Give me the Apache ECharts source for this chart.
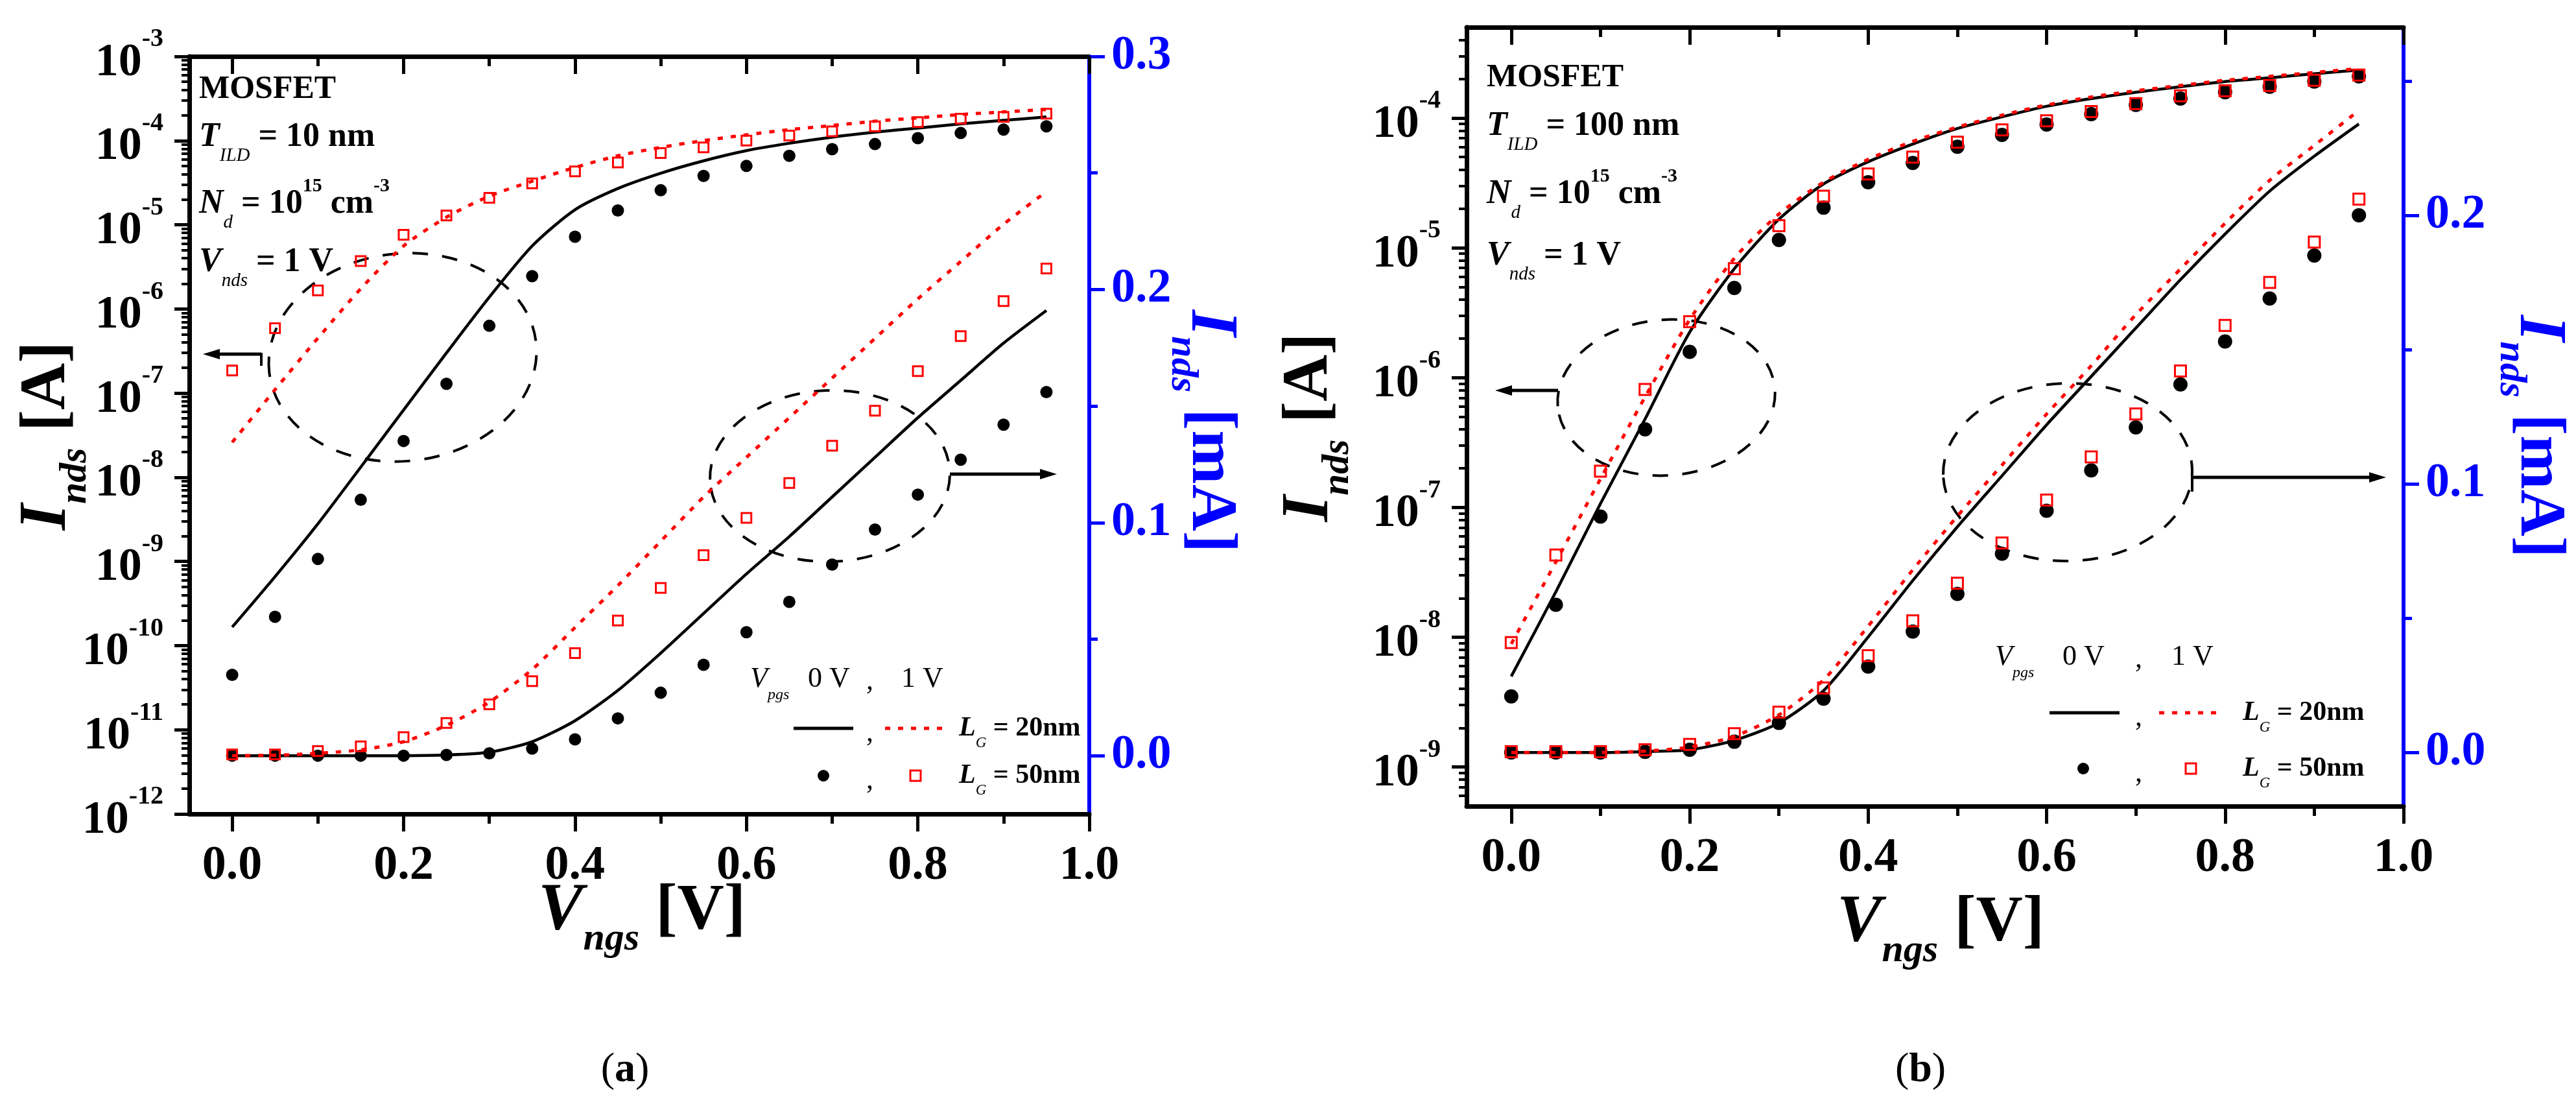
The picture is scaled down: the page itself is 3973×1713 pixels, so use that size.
<!DOCTYPE html>
<html>
<head>
<meta charset="utf-8">
<script src="https://cdn.jsdelivr.net/npm/echarts@6/dist/echarts.min.js"></script>
<style>
html, body { margin: 0; padding: 0; background: #fff; }
#chart { width: 3973px; height: 1713px; }
</style>
</head>
<body>
<div id="chart"></div>
<script>
// gate voltage grid shared by every curve
const vngs = [0, 0.05, 0.1, 0.15, 0.2, 0.25, 0.3, 0.35, 0.4, 0.45, 0.5, 0.55, 0.6, 0.65, 0.7, 0.75, 0.8, 0.85, 0.9, 0.95];

// (a) T_ILD = 10 nm, log scale [A]
const aLog20nm0V = [1.66e-10, 6.6e-10, 2.8e-9, 1.32e-8, 6.3e-8, 3.0e-7, 1.38e-6, 5.6e-6, 1.51e-5, 2.7e-5, 4.1e-5, 5.75e-5, 7.6e-5, 9.3e-5, 1.10e-4, 1.26e-4, 1.41e-4, 1.58e-4, 1.74e-4, 1.91e-4];
const aLog20nm1V = [2.6e-8, 1.1e-7, 4.5e-7, 1.74e-6, 5.6e-6, 1.23e-5, 2.19e-5, 3.3e-5, 4.8e-5, 6.6e-5, 8.3e-5, 1.0e-4, 1.17e-4, 1.35e-4, 1.51e-4, 1.70e-4, 1.86e-4, 2.04e-4, 2.19e-4, 2.34e-4];
const aLog50nm0V = [4.5e-11, 2.2e-10, 1.07e-9, 5.4e-9, 2.7e-8, 1.29e-7, 6.3e-7, 2.45e-6, 7.2e-6, 1.48e-5, 2.57e-5, 3.8e-5, 5.0e-5, 6.6e-5, 7.9e-5, 9.1e-5, 1.07e-4, 1.23e-4, 1.35e-4, 1.48e-4];
const aLog50nm1V = [1.86e-7, 5.9e-7, 1.66e-6, 3.7e-6, 7.6e-6, 1.29e-5, 2.09e-5, 3.1e-5, 4.3e-5, 5.5e-5, 7.1e-5, 8.3e-5, 1.0e-4, 1.15e-4, 1.29e-4, 1.48e-4, 1.66e-4, 1.82e-4, 1.91e-4, 2.09e-4];
// (a) linear scale [mA]
const aLin20nm0V = [0, 0, 0, 0, 0, 0.0003, 0.0015, 0.006, 0.015, 0.028, 0.044, 0.061, 0.078, 0.094, 0.111, 0.128, 0.145, 0.161, 0.177, 0.191];
const aLin20nm1V = [0, 0.0002, 0.001, 0.0025, 0.006, 0.013, 0.023, 0.037, 0.055, 0.073, 0.092, 0.111, 0.128, 0.145, 0.162, 0.179, 0.196, 0.212, 0.228, 0.242];
const aLin50nm0V = [0, 0, 0, 0, 0, 0.0003, 0.001, 0.003, 0.007, 0.016, 0.027, 0.039, 0.053, 0.066, 0.082, 0.097, 0.112, 0.127, 0.142, 0.156];
const aLin50nm1V = [0.0005, 0.0005, 0.002, 0.004, 0.008, 0.014, 0.022, 0.032, 0.044, 0.058, 0.072, 0.086, 0.102, 0.117, 0.133, 0.148, 0.165, 0.180, 0.195, 0.209];

// (b) T_ILD = 100 nm, log scale [A]
const bLog20nm0V = [5.0e-9, 2.24e-8, 1.07e-7, 4.8e-7, 2.24e-6, 6.9e-6, 1.66e-5, 3.1e-5, 4.6e-5, 6.3e-5, 8.3e-5, 1.02e-4, 1.23e-4, 1.41e-4, 1.58e-4, 1.74e-4, 1.91e-4, 2.04e-4, 2.19e-4, 2.34e-4];
const bLog20nm1V = [8.9e-9, 3.8e-8, 1.66e-7, 7.1e-7, 2.8e-6, 8.3e-6, 1.82e-5, 3.2e-5, 4.8e-5, 6.6e-5, 8.5e-5, 1.05e-4, 1.26e-4, 1.45e-4, 1.62e-4, 1.78e-4, 1.95e-4, 2.09e-4, 2.24e-4, 2.40e-4];
const bLog50nm0V = [3.5e-9, 1.78e-8, 8.5e-8, 4.0e-7, 1.58e-6, 4.9e-6, 1.15e-5, 2.04e-5, 3.2e-5, 4.5e-5, 6.0e-5, 7.4e-5, 8.9e-5, 1.07e-4, 1.26e-4, 1.41e-4, 1.58e-4, 1.74e-4, 1.91e-4, 2.09e-4];
const bLog50nm1V = [9.1e-9, 4.3e-8, 1.9e-7, 8.1e-7, 2.7e-6, 6.9e-6, 1.48e-5, 2.5e-5, 3.7e-5, 5.0e-5, 6.5e-5, 8.1e-5, 9.5e-5, 1.12e-4, 1.29e-4, 1.48e-4, 1.62e-4, 1.78e-4, 1.95e-4, 2.14e-4];
// (b) linear scale [mA]
const bLin20nm0V = [0, 0, 0, 0.0003, 0.001, 0.0045, 0.011, 0.023, 0.043, 0.064, 0.084, 0.103, 0.122, 0.140, 0.158, 0.176, 0.193, 0.209, 0.222, 0.234];
const bLin20nm1V = [0, 0, 0, 0.0005, 0.002, 0.006, 0.014, 0.027, 0.047, 0.068, 0.088, 0.107, 0.126, 0.144, 0.163, 0.180, 0.197, 0.213, 0.226, 0.239];
const bLin50nm0V = [0, 0, 0, 0.0002, 0.001, 0.004, 0.011, 0.020, 0.032, 0.045, 0.059, 0.074, 0.090, 0.105, 0.121, 0.137, 0.153, 0.169, 0.185, 0.200];
const bLin50nm1V = [0.0003, 0.0003, 0.0003, 0.001, 0.003, 0.007, 0.015, 0.024, 0.036, 0.049, 0.063, 0.078, 0.094, 0.110, 0.126, 0.142, 0.159, 0.175, 0.190, 0.206];

// tick values
const xMajor = [0, 0.2, 0.4, 0.6, 0.8, 1.0];
const xMinor = [0.1, 0.3, 0.5, 0.7, 0.9];
const aLogMajor = [1e-12, 1e-11, 1e-10, 1e-9, 1e-8, 1e-7, 1e-6, 1e-5, 1e-4, 1e-3];
const bLogMajor = [1e-9, 1e-8, 1e-7, 1e-6, 1e-5, 1e-4];
const aMaMajor = [0, 0.1, 0.2, 0.3];
const aMaMinor = [0.05, 0.15, 0.25];
const bMaMajor = [0, 0.1, 0.2];
const bMaMinor = [0.05, 0.15, 0.25];

const FF = '"Liberation Serif", "Times New Roman", serif';
const BLUE = '#0000ff';
const RED = '#ff0000';
const DOTS = [8, 12];

// minor ticks of a log axis: 2..9 times each decade
function logMinor(lo, hi) {
    const out = [];
    for (let e = -13; e <= -3; e++) {
        for (let k = 2; k <= 9; k++) {
            const v = k * Math.pow(10, e);
            if (v > lo && v < hi) out.push(v);
        }
    }
    return out;
}

const pairs = arr => vngs.map((x, i) => [x, arr[i]]);

const logRich = {
    m: { fontSize: 72, fontWeight: 'bold', fontFamily: FF, color: '#000', lineHeight: 92, verticalAlign: 'bottom' },
    e: { fontSize: 40, fontWeight: 'bold', fontFamily: FF, color: '#000', lineHeight: 40, verticalAlign: 'top' }
};
function logLabel(v) {
    const e = Math.round(Math.log10(v));
    return '{m|10}{e|' + e + '}';
}

function xAxes(g) {
    const base = { gridIndex: g, type: 'value', min: -0.05, max: 1.0, splitLine: { show: false } };
    return [
        Object.assign({}, base, {
            position: 'bottom',
            axisLine: { show: true, onZero: false, lineStyle: { color: '#000', width: 7 } },
            axisTick: { show: true, customValues: xMajor, length: 27, lineStyle: { color: '#000', width: 5 } },
            axisLabel: { customValues: xMajor, formatter: v => v.toFixed(1), fontSize: 74, fontWeight: 'bold', fontFamily: FF, color: '#000', margin: 44 }
        }),
        Object.assign({}, base, {
            position: 'bottom',
            axisLine: { show: false, onZero: false },
            axisTick: { show: true, customValues: xMinor, length: 15, lineStyle: { color: '#000', width: 5 } },
            axisLabel: { show: false }
        }),
        Object.assign({}, base, {
            position: 'top',
            axisLine: { show: true, onZero: false, lineStyle: { color: '#000', width: 7 } },
            axisTick: { show: true, inside: true, customValues: xMajor, length: 27, lineStyle: { color: '#000', width: 5 } },
            axisLabel: { show: false }
        }),
        Object.assign({}, base, {
            position: 'top',
            axisLine: { show: false, onZero: false },
            axisTick: { show: true, inside: true, customValues: xMinor, length: 15, lineStyle: { color: '#000', width: 5 } },
            axisLabel: { show: false }
        })
    ];
}

function yAxes(g, lo, hi, logMajor, maMin, maMax, maMajor, maMinorV) {
    return [
        {
            gridIndex: g, type: 'log', logBase: 10, min: lo, max: hi, position: 'left',
            axisLine: { show: true, onZero: false, lineStyle: { color: '#000', width: 7 } },
            axisTick: { show: true, customValues: logMajor, length: 23, lineStyle: { color: '#000', width: 5 } },
            axisLabel: { customValues: logMajor, formatter: logLabel, rich: logRich, margin: 40 },
            splitLine: { show: false }
        },
        {
            gridIndex: g, type: 'log', logBase: 10, min: lo, max: hi, position: 'left',
            axisLine: { show: false, onZero: false },
            axisTick: { show: true, customValues: logMinor(lo, hi), length: 12, lineStyle: { color: '#000', width: 4 } },
            axisLabel: { show: false },
            splitLine: { show: false }
        },
        {
            gridIndex: g, type: 'value', min: maMin, max: maMax, position: 'right',
            axisLine: { show: true, onZero: false, lineStyle: { color: BLUE, width: 6 } },
            axisTick: { show: true, customValues: maMajor, length: 24, lineStyle: { color: BLUE, width: 5 } },
            axisLabel: { customValues: maMajor, formatter: v => v.toFixed(1), fontSize: 74, fontWeight: 'bold', fontFamily: FF, color: BLUE, margin: 34 },
            splitLine: { show: false }
        },
        {
            gridIndex: g, type: 'value', min: maMin, max: maMax, position: 'right',
            axisLine: { show: false, onZero: false },
            axisTick: { show: true, customValues: maMinorV, length: 13, lineStyle: { color: BLUE, width: 5 } },
            axisLabel: { show: false },
            splitLine: { show: false }
        }
    ];
}

function lineSeries(xi, yi, arr, red) {
    return {
        type: 'line', xAxisIndex: xi, yAxisIndex: yi, data: pairs(arr),
        showSymbol: false, smooth: 0.25, z: 4,
        lineStyle: red ? { color: RED, width: 5, type: DOTS } : { color: '#000', width: 4.5 }
    };
}
function dotSeries(xi, yi, arr, size) {
    return {
        type: 'scatter', xAxisIndex: xi, yAxisIndex: yi, data: pairs(arr),
        symbol: 'circle', symbolSize: size, itemStyle: { color: '#000', opacity: 1 }, z: 3
    };
}
function squareSeries(xi, yi, arr, size) {
    return {
        type: 'scatter', xAxisIndex: xi, yAxisIndex: yi, data: pairs(arr),
        symbol: 'rect', symbolSize: size, z: 5,
        itemStyle: { color: 'rgba(255,255,255,0)', borderColor: RED, borderWidth: 3, opacity: 1 }
    };
}

// rich styles: main text centred in the line, subscript pushed to the bottom, superscript to the top
function txtRich(size, color, weight, subBold) {
    const sub = Math.round(size * 0.55), sup = Math.round(size * 0.58);
    const m = { fontSize: size, fontWeight: weight || 'bold', fontFamily: FF, fill: color, lineHeight: size + 4, verticalAlign: 'middle' };
    return {
        m: m,
        mb: Object.assign({}, m, { fontWeight: 'bold' }),
        mi: Object.assign({}, m, { fontStyle: 'italic' }),
        sub: { fontSize: sub, fontStyle: 'italic', fontWeight: subBold ? 'bold' : 'normal', fontFamily: FF, fill: color, height: sub, lineHeight: Math.round(size * 1.65), verticalAlign: 'bottom' },
        sup: { fontSize: sup, fontWeight: 'bold', fontFamily: FF, fill: color, height: sup, lineHeight: sup, verticalAlign: 'top' }
    };
}
function txt(x, y, text, size, opts) {
    opts = opts || {};
    const color = opts.color || '#000';
    return {
        type: 'text', x: x, y: y, rotation: opts.rotation || 0, z: 10,
        style: {
            text: text, rich: txtRich(size, color, opts.weight, opts.subBold), fill: color,
            align: opts.align || 'left', verticalAlign: 'middle',
            textAlign: opts.align || 'left', textVerticalAlign: 'middle'
        }
    };
}
function ellipse(cx, cy, rx, ry, rot) {
    return {
        type: 'ellipse', x: cx, y: cy, rotation: rot || 0, z: 2,
        shape: { cx: 0, cy: 0, rx: rx, ry: ry },
        style: { fill: 'none', stroke: '#000', lineWidth: 4, lineDash: [24, 22] }
    };
}
function arrow(x1, x2, y, stub) {
    const d = x2 > x1 ? 1 : -1;
    const els = [
        { type: 'line', z: 2, shape: { x1: x1, y1: y, x2: x2 - d * 20, y2: y }, style: { stroke: '#000', lineWidth: 5 } },
        { type: 'polygon', z: 2, shape: { points: [[x2, y], [x2 - d * 26, y - 8], [x2 - d * 26, y + 8]] }, style: { fill: '#000' } }
    ];
    if (stub) els.push({ type: 'line', z: 2, shape: { x1: x1, y1: y - 2, x2: x1, y2: y + stub }, style: { stroke: '#000', lineWidth: 4 } });
    return els;
}
function legendBlock(o) {
    // o: anchor positions of the legend pieces for one panel
    return [
        txt(o.vx, o.r1, '{mi|V}{sub|pgs}', 44, { weight: 'normal' }),
        txt(o.v0, o.r1, '{m|0 V}', 44, { weight: 'normal' }),
        txt(o.c, o.r1 + 4, '{m|,}', 44, { weight: 'normal' }),
        txt(o.v1, o.r1, '{m|1 V}', 44, { weight: 'normal' }),
        { type: 'line', z: 10, shape: { x1: o.bl[0], y1: o.r2, x2: o.bl[1], y2: o.r2 }, style: { stroke: '#000', lineWidth: 5 } },
        txt(o.c, o.r2 + 8, '{m|,}', 44, { weight: 'normal' }),
        { type: 'line', z: 10, shape: { x1: o.rl[0], y1: o.r2, x2: o.rl[1], y2: o.r2 }, style: { stroke: RED, lineWidth: 5, lineDash: DOTS } },
        txt(o.lx, o.r2, '{mi|L}{sub|G}{mb| = 20nm}', 42, { weight: 'bold' }),
        { type: 'circle', z: 10, shape: { cx: o.dot, cy: o.r3, r: 9 }, style: { fill: '#000' } },
        txt(o.c, o.r3 + 8, '{m|,}', 44, { weight: 'normal' }),
        { type: 'rect', z: 10, shape: { x: o.sq - 8, y: o.r3 - 8, width: 16, height: 16 }, style: { fill: 'none', stroke: RED, lineWidth: 3 } },
        txt(o.lx, o.r3, '{mi|L}{sub|G}{mb| = 50nm}', 42, { weight: 'bold' })
    ];
}
// axis titles, drawn as rotated rich text; the anchor is the centre of the big letter
function axisTitle(x, y, sym, sub, unit, rot, color) {
    return {
        type: 'text', x: x, y: y, rotation: rot, z: 10,
        style: {
            text: '{i|' + sym + '}{s|' + sub + '}{b| ' + unit + '}', fill: color,
            align: 'center', verticalAlign: 'middle', textAlign: 'center', textVerticalAlign: 'middle',
            rich: {
                i: { fontSize: 104, fontStyle: 'italic', fontWeight: 'bold', fontFamily: FF, fill: color, lineHeight: 104, verticalAlign: 'middle' },
                s: { fontSize: 60, fontStyle: 'italic', fontWeight: 'bold', fontFamily: FF, fill: color, height: 60, lineHeight: 146, verticalAlign: 'bottom' },
                b: { fontSize: 100, fontWeight: 'bold', fontFamily: FF, fill: color, lineHeight: 100, verticalAlign: 'middle' }
            }
        }
    };
}

const chart = echarts.init(document.getElementById('chart'), null, { renderer: 'canvas' });

const option = {
    animation: false,
    backgroundColor: '#fff',
    grid: [
        { left: 292, top: 87, width: 1388, height: 1168, containLabel: false },
        { left: 2262, top: 42, width: 1445, height: 1201, containLabel: false }
    ],
    xAxis: [].concat(xAxes(0), xAxes(1)),
    yAxis: [].concat(
        yAxes(0, 1e-12, 1e-3, aLogMajor, -0.025, 0.3, aMaMajor, aMaMinor),
        yAxes(1, 5e-10, 5e-4, bLogMajor, -0.02, 0.27, bMaMajor, bMaMinor)
    ),
    series: [
        lineSeries(0, 0, aLog20nm0V, false),
        lineSeries(0, 0, aLog20nm1V, true),
        dotSeries(0, 0, aLog50nm0V, 19),
        squareSeries(0, 0, aLog50nm1V, 15),
        lineSeries(0, 2, aLin20nm0V, false),
        lineSeries(0, 2, aLin20nm1V, true),
        dotSeries(0, 2, aLin50nm0V, 19),
        squareSeries(0, 2, aLin50nm1V, 15),

        lineSeries(4, 4, bLog20nm0V, false),
        lineSeries(4, 4, bLog20nm1V, true),
        dotSeries(4, 4, bLog50nm0V, 22),
        squareSeries(4, 4, bLog50nm1V, 17),
        lineSeries(4, 6, bLin20nm0V, false),
        lineSeries(4, 6, bLin20nm1V, true),
        dotSeries(4, 6, bLin50nm0V, 22),
        squareSeries(4, 6, bLin50nm1V, 17)
    ],
    graphic: [].concat(
        // axis titles
        axisTitle(73, 672, 'I', 'nds', '[A]', Math.PI / 2, '#000'),
        axisTitle(1866, 665, 'I', 'nds', '[mA]', -Math.PI / 2, BLUE),
        axisTitle(990, 1405, 'V', 'ngs', '[V]', 0, '#000'),
        axisTitle(2020, 659, 'I', 'nds', '[A]', Math.PI / 2, '#000'),
        axisTitle(3915, 673, 'I', 'nds', '[mA]', -Math.PI / 2, BLUE),
        axisTitle(2993, 1423, 'V', 'ngs', '[V]', 0, '#000'),
        // panel (a) notes
        txt(307, 138, '{m|MOSFET}', 50),
        txt(307, 212, '{mi|T}{sub|ILD}{m| = 10 nm}', 52),
        txt(307, 315, '{mi|N}{sub|d}{m| = 10}{sup|15}{m| cm}{sup|-3}', 52),
        txt(307, 405, '{mi|V}{sub|nds}{m| = 1 V}', 52),
        ellipse(621, 551, 207, 160, 0.11),
        arrow(403, 313, 546, 18),
        ellipse(1280, 734, 185, 132, 0.03),
        arrow(1465, 1630, 731, 0),
        legendBlock({ vx: 1157, v0: 1246, c: 1336, v1: 1390, r1: 1047, r2: 1123, r3: 1196, bl: [1224, 1316], rl: [1365, 1461], lx: 1479, dot: 1270, sq: 1412 }),
        // panel (b) notes
        txt(2293, 120, '{m|MOSFET}', 50),
        txt(2293, 195, '{mi|T}{sub|ILD}{m| = 100 nm}', 52),
        txt(2293, 300, '{mi|N}{sub|d}{m| = 10}{sup|15}{m| cm}{sup|-3}', 52),
        txt(2293, 395, '{mi|V}{sub|nds}{m| = 1 V}', 52),
        ellipse(2570, 613, 168, 120, 0.08),
        arrow(2403, 2306, 602, 0),
        ellipse(3189, 728, 192, 137, 0.02),
        arrow(3381, 3680, 736, 22),
        legendBlock({ vx: 3077, v0: 3181, c: 3293, v1: 3349, r1: 1013, r2: 1099, r3: 1185, bl: [3161, 3269], rl: [3330, 3427], lx: 3459, dot: 3213, sq: 3379 }),
        // captions
        {
            type: 'text', x: 964, y: 1650, z: 10,
            style: { text: '({b|a})', rich: { b: { fontSize: 64, fontWeight: 'bold', fontFamily: FF, fill: '#000' } }, font: '64px ' + FF, fill: '#000', align: 'center', verticalAlign: 'middle', textAlign: 'center', textVerticalAlign: 'middle' }
        },
        {
            type: 'text', x: 2962, y: 1650, z: 10,
            style: { text: '({b|b})', rich: { b: { fontSize: 64, fontWeight: 'bold', fontFamily: FF, fill: '#000' } }, font: '64px ' + FF, fill: '#000', align: 'center', verticalAlign: 'middle', textAlign: 'center', textVerticalAlign: 'middle' }
        }
    )
};

chart.setOption(option);
</script>
</body>
</html>
